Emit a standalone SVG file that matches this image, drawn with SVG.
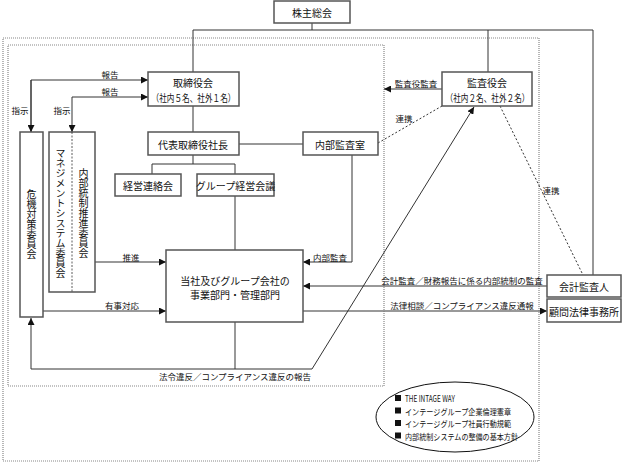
<svg xmlns="http://www.w3.org/2000/svg" width="624" height="462" viewBox="0 0 624 462">
<defs>
<marker id="ah" markerUnits="userSpaceOnUse" markerWidth="7" markerHeight="7" refX="7" refY="3.5" orient="auto">
<path d="M0,0 L7,3.5 L0,7 z" fill="#111"/>
</marker>
<style>
.box{fill:#fff;stroke:#555;stroke-width:1.5}
.ln{fill:none;stroke:#333;stroke-width:1}
.gl{fill:none;stroke:#777;stroke-width:1.5}
.dl{fill:none;stroke:#333;stroke-width:1;stroke-dasharray:2,2}
.dot{fill:none;stroke:#888;stroke-width:1.2;stroke-dasharray:1,1}
text{font-family:"Noto Sans CJK JP","Liberation Sans",sans-serif;fill:#111}
.t{font-size:10px;text-anchor:middle;dominant-baseline:central}
.l{font-size:8.5px;text-anchor:middle;dominant-baseline:central}
.v{font-size:10px;writing-mode:vertical-rl;text-orientation:upright;text-anchor:middle;dominant-baseline:central}
.e{font-size:8.5px;dominant-baseline:central}
</style>
</defs>

<g id="frames">
<rect class="dot" x="3" y="38" width="536" height="423"/>
<rect class="dot" x="8" y="45" width="376" height="341"/>
</g>

<g id="connectors">
<path class="ln" d="M312,23 V30 M193,30 H593 M193,30 V72 M488,30 V72 M593,30 V275"/>
<path class="ln" d="M193,106 V132 M239,144 H303 M193,155 V164 M152,164 H235 M152,164 V174 M235,164 V174 M235,196 V250"/>
<path class="ln" d="M31,132 V80 H148" marker-end="url(#ah)"/>
<path class="ln" d="M31,80 V132" marker-end="url(#ah)"/>
<path class="ln" d="M72,97 H148" marker-end="url(#ah)"/>
<path class="ln" d="M72,97 V132" marker-end="url(#ah)"/>
<path class="gl" d="M95,262 H166" marker-end="url(#ah)"/>
<path class="gl" d="M43,311 H166" marker-end="url(#ah)"/>
<path class="ln" d="M352,155 V262 H303" marker-end="url(#ah)"/>
<path class="ln" d="M547,286 H303" marker-end="url(#ah)"/>
<path class="gl" d="M303,311 H547" marker-end="url(#ah)"/>
<path class="gl" d="M235,322 V369"/>
<path class="ln" d="M312,369 H31 V318" marker-end="url(#ah)"/>
<path class="ln" d="M312,369 L474,107" marker-end="url(#ah)"/>
<path class="ln" d="M442,89 H384" marker-end="url(#ah)"/>
<path class="dl" d="M378,143 L442,106"/>
<path class="dl" d="M500,106 L583,275"/>
<text class="l" x="110" y="74">報告</text>
<text class="l" x="110" y="91">報告</text>
<text class="l" x="20" y="110">指示</text>
<text class="l" x="62" y="110">指示</text>
<text class="l" x="131" y="257">推進</text>
<text class="l" x="122" y="305">有事対応</text>
<text class="l" x="330" y="257">内部監査</text>
<text class="l" x="462" y="280">会計監査／財務報告に係る内部統制の監査</text>
<text class="l" x="462" y="305">法律相談／コンプライアンス違反通報</text>
<text class="l" x="235" y="376">法令違反／コンプライアンス違反の報告</text>
<text class="l" x="416" y="83">監査役監査</text>
<text class="l" x="404" y="118">連携</text>
<text class="l" x="551" y="190">連携</text>
</g>

<g id="shareholders">
<rect class="box" x="274" y="1" width="76" height="22"/>
<text class="t" x="312" y="12">株主総会</text>
</g>

<g id="board">
<rect class="box" x="148" y="72" width="91" height="34"/>
<text class="t" x="193" y="82.5">取締役会</text>
<text class="t" x="193.5" y="97" textLength="84" lengthAdjust="spacingAndGlyphs">（社内５名、社外１名）</text>
</g>

<g id="auditors">
<rect class="box" x="442" y="72" width="90" height="34"/>
<text class="t" x="487" y="82.5">監査役会</text>
<text class="t" x="487.5" y="97" textLength="84" lengthAdjust="spacingAndGlyphs">（社内２名、社外２名）</text>
</g>

<g id="president">
<rect class="box" x="148" y="132" width="91" height="23"/>
<text class="t" x="193" y="144">代表取締役社長</text>
</g>

<g id="internal-audit">
<rect class="box" x="303" y="132" width="75" height="23"/>
<text class="t" x="340" y="144">内部監査室</text>
</g>

<g id="mgmt-liaison">
<rect class="box" x="115" y="174" width="66" height="22"/>
<text class="t" x="148" y="185">経営連絡会</text>
</g>

<g id="group-mgmt">
<rect class="box" x="197" y="174" width="77" height="22"/>
<text class="t" x="235.5" y="185">グループ経営会議</text>
</g>

<g id="crisis">
<rect class="box" x="20" y="132" width="23" height="185"/>
<text class="v" x="31.5" y="224">危機対策委員会</text>
</g>

<g id="management-system">
<rect class="box" x="49" y="132" width="46" height="160"/>
<path d="M72,132 V292" fill="none" stroke="#333" stroke-width="0.8" stroke-dasharray="2,1.5"/>
<text class="v" x="60.5" y="213">マネジメントシステム委員会</text>
<text class="v" x="83.5" y="213">内部統制推進委員会</text>
</g>

<g id="business">
<rect class="box" x="166" y="250" width="137" height="72"/>
<text class="t" x="235" y="280">当社及びグループ会社の</text>
<text class="t" x="235" y="294">事業部門・管理部門</text>
</g>

<g id="accounting-auditor">
<rect class="box" x="547" y="275" width="74" height="22"/>
<text class="t" x="584" y="286">会計監査人</text>
</g>

<g id="legal">
<rect class="box" x="547" y="299" width="74" height="23"/>
<text class="t" x="584" y="311">顧問法律事務所</text>
</g>

<g id="policies">
<ellipse cx="455" cy="417" rx="79" ry="35" fill="#fff" stroke="#111" stroke-width="1"/>
<rect x="395" y="395" width="6" height="6" fill="#111"/>
<rect x="395" y="407.5" width="6" height="6" fill="#111"/>
<rect x="395" y="420" width="6" height="6" fill="#111"/>
<rect x="395" y="432.5" width="6" height="6" fill="#111"/>
<text class="e" x="405" y="398" textLength="50" lengthAdjust="spacingAndGlyphs">THE INTAGE WAY</text>
<text class="e" x="405" y="410.5" textLength="106" lengthAdjust="spacingAndGlyphs">インテージグループ企業倫理憲章</text>
<text class="e" x="405" y="423" textLength="106" lengthAdjust="spacingAndGlyphs">インテージグループ社員行動規範</text>
<text class="e" x="405" y="435.5" textLength="113" lengthAdjust="spacingAndGlyphs">内部統制システムの整備の基本方針</text>
</g>
</svg>
